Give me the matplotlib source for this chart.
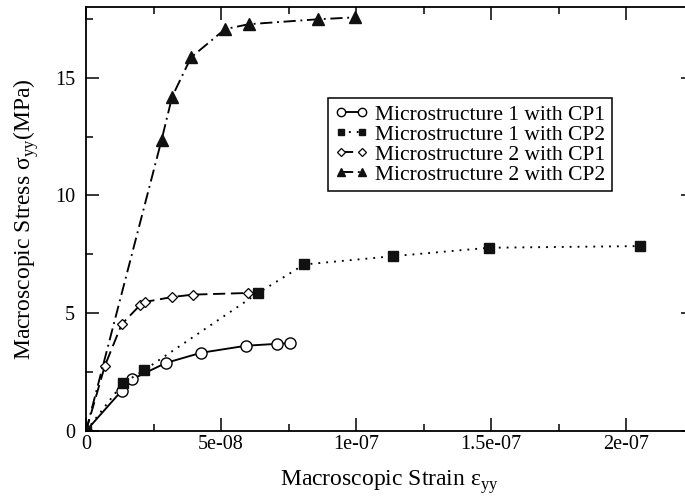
import matplotlib
matplotlib.use("Agg")
import matplotlib.pyplot as plt
from matplotlib.ticker import MultipleLocator

plt.rcParams['font.family'] = ['Liberation Serif', 'DejaVu Serif']
plt.rcParams['mathtext.fontset'] = 'custom'
plt.rcParams['mathtext.rm'] = 'Liberation Serif'

# strain (x) and stress in MPa (y)
m1cp1_x = [0, 1.32e-8, 1.69e-8, 2.96e-8, 4.26e-8, 5.93e-8, 7.06e-8, 7.56e-8]
m1cp1_y = [0, 1.71, 2.19, 2.89, 3.32, 3.62, 3.70, 3.73]

m1cp2_x = [0, 1.36e-8, 2.15e-8, 6.38e-8, 8.08e-8, 1.136e-7, 1.493e-7, 2.052e-7]
m1cp2_y = [0, 2.02, 2.58, 5.86, 7.07, 7.42, 7.78, 7.85]

m2cp1_x = [0, 7.0e-9, 1.32e-8, 2.0e-8, 2.19e-8, 3.2e-8, 3.97e-8, 6.01e-8]
m2cp1_y = [0, 2.77, 4.53, 5.34, 5.48, 5.69, 5.79, 5.86]

m2cp2_x = [0, 2.80e-8, 3.19e-8, 3.89e-8, 5.15e-8, 6.03e-8, 8.6e-8, 9.97e-8]
m2cp2_y = [0, 12.36, 14.19, 15.86, 17.06, 17.27, 17.48, 17.56]

labels = ["Microstructure 1 with CP1", "Microstructure 1 with CP2",
          "Microstructure 2 with CP1", "Microstructure 2 with CP2"]

W, H = 685, 503
fig = plt.figure(figsize=(W / 100.0, H / 100.0), dpi=100)
ax = fig.add_axes([86.0 / W, (H - 431.0) / H, 607.5 / W, 424.0 / H])

lw = 1.35
ax.plot(m1cp1_x, m1cp1_y, color='k', lw=lw, ls='-', marker='o', ms=8,
        mfc='white', mec='k', mew=1.0, label=labels[0])
ax.plot(m1cp2_x, m1cp2_y, color='k', lw=lw, ls=(0, (1, 3.2)), marker='s', ms=6.5,
        mfc='#111111', mec='#111111', label=labels[1])
ax.plot(m2cp1_x, m2cp1_y, color='k', lw=lw, ls=(0, (6.5, 3)), marker='D', ms=5.5,
        mfc='white', mec='k', mew=0.9, label=labels[2])
ax.plot(m2cp2_x, m2cp2_y, color='k', lw=lw, ls=(0, (6.5, 2.5, 1, 2.5)), marker='^', ms=8,
        mfc='#111111', mec='#111111', label=labels[3])

ax.set_xlim(0, 2.25e-7)
ax.set_ylim(0, 18)
ax.xaxis.set_major_locator(MultipleLocator(5e-8))
ax.xaxis.set_minor_locator(MultipleLocator(2.5e-8))
ax.yaxis.set_major_locator(MultipleLocator(5))
ax.yaxis.set_minor_locator(MultipleLocator(2.5))
ax.set_xticks([0, 5e-8, 1e-7, 1.5e-7, 2e-7])
ax.set_xticklabels(["0", "5e-08", "1e-07", "1.5e-07", "2e-07"])
ax.tick_params(which='both', direction='in', top=True, right=True, width=1.1)
ax.tick_params(which='major', length=9.5, labelsize=14.5)
ax.tick_params(which='minor', length=5)
ax.tick_params(axis='x', pad=3)
ax.tick_params(axis='y', pad=8)
for s in ax.spines.values():
    s.set_linewidth(1.3)

ax.set_xlabel(r"Macroscopic Strain ε$_{\mathregular{yy}}$", fontsize=17, labelpad=10)
ax.set_ylabel(r"Macroscopic Stress σ$_{\mathregular{yy}}$(MPa)", fontsize=17, labelpad=10)

leg = ax.legend(loc='upper left', bbox_to_anchor=(328.0 / W, 1 - 98.0 / H),
                bbox_transform=fig.transFigure, borderaxespad=0, fontsize=15.5,
                fancybox=False, framealpha=1, edgecolor='k', numpoints=2,
                markerscale=0.75, handlelength=1.6, handletextpad=0.3,
                labelspacing=0.0, borderpad=0.3)
leg.get_frame().set_linewidth(1.1)

fig.savefig("out.png", dpi=100)
